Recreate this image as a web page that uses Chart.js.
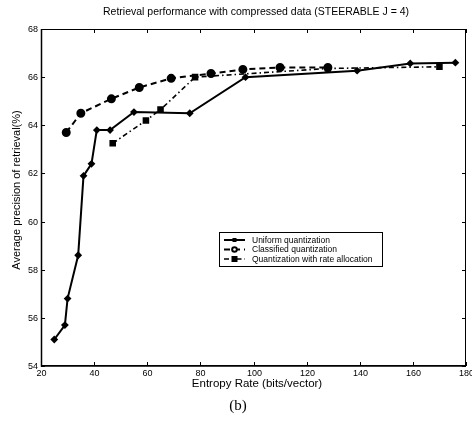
<!DOCTYPE html>
<html>
<head>
<meta charset="utf-8">
<script src="https://cdn.jsdelivr.net/npm/chart.js@4/dist/chart.umd.min.js"></script>
<style>
  html, body { margin: 0; padding: 0; background: #fff; }
  #wrap { width: 472px; height: 424px; position: relative; }
</style>
</head>
<body>
<div id="wrap"><canvas id="plot" width="472" height="424"></canvas></div>
<script>
// values
const uniformX = [25, 29, 30, 34, 36, 39, 41, 46, 55, 76, 97, 139, 159, 176];
const uniformY = [55.1, 55.7, 56.8, 58.6, 61.9, 62.4, 63.8, 63.8, 64.55, 64.5, 66.0, 66.27, 66.57, 66.6];

const classifiedX = [29.5, 35, 46.5, 57, 69, 84, 96, 110, 128];
const classifiedY = [63.7, 64.5, 65.1, 65.57, 65.95, 66.15, 66.32, 66.4, 66.4];

const rateX = [47, 59.5, 65, 78, 128, 170];
const rateY = [63.25, 64.2, 64.65, 66.0, 66.36, 66.43];

const xTicks = [20, 40, 60, 80, 100, 120, 140, 160, 180];
const yTicks = [54, 56, 58, 60, 62, 64, 66, 68];

const FONT = "'Liberation Sans', Arial, sans-serif";

function toPoints(xs, ys) {
  return xs.map((x, i) => ({ x: x, y: ys[i] }));
}

// inward ticks, box, labels, legend - MATLAB look
const matlabFrame = {
  id: "matlabFrame",
  afterDraw(chart) {
    const ctx = chart.ctx;
    const a = chart.chartArea;
    const xs = chart.scales.x;
    const ys = chart.scales.y;
    ctx.save();
    ctx.strokeStyle = "#000";
    ctx.lineWidth = 1;
    ctx.strokeRect(a.left + 0.5, a.top + 0.5, a.right - a.left - 1, a.bottom - a.top - 1);
    ctx.lineWidth = 1.5;
    ctx.beginPath();
    ctx.moveTo(a.left + 0.5, a.top);
    ctx.lineTo(a.left + 0.5, a.bottom);
    ctx.lineTo(a.right, a.bottom);
    ctx.stroke();

    ctx.lineWidth = 1;
    ctx.fillStyle = "#000";
    ctx.font = "9px " + FONT;
    ctx.textAlign = "center";
    ctx.textBaseline = "top";
    xTicks.forEach(v => {
      const px = Math.round(xs.getPixelForValue(v)) + 0.5;
      ctx.beginPath();
      ctx.moveTo(px, a.bottom);
      ctx.lineTo(px, a.bottom - 4);
      ctx.moveTo(px, a.top);
      ctx.lineTo(px, a.top + 4);
      ctx.stroke();
      ctx.fillText(String(v), px, a.bottom + 3);
    });
    ctx.textAlign = "right";
    ctx.textBaseline = "middle";
    yTicks.forEach(v => {
      const py = Math.round(ys.getPixelForValue(v)) + 0.5;
      ctx.beginPath();
      ctx.moveTo(a.left, py);
      ctx.lineTo(a.left + 4, py);
      ctx.moveTo(a.right, py);
      ctx.lineTo(a.right - 4, py);
      ctx.stroke();
      ctx.fillText(String(v), a.left - 3, py);
    });

    // titles
    ctx.textAlign = "center";
    ctx.font = "10.5px " + FONT;
    ctx.fillText("Retrieval performance with compressed data (STEERABLE J = 4)", 256, 12);
    ctx.font = "11.5px " + FONT;
    ctx.fillText("Entropy Rate (bits/vector)", 257, 384);
    ctx.save();
    ctx.translate(17, 190);
    ctx.rotate(-Math.PI / 2);
    ctx.font = "11px " + FONT;
    ctx.fillText("Average precision of retrieval(%)", 0, 0);
    ctx.restore();
    ctx.font = "15px 'Liberation Serif', 'DejaVu Serif', serif";
    ctx.fillText("(b)", 238, 406);

    // legend
    const lx = 219, ly = 232, lw = 163, lh = 34;
    ctx.fillStyle = "#fff";
    ctx.fillRect(lx, ly, lw, lh);
    ctx.strokeStyle = "#000";
    ctx.lineWidth = 1;
    ctx.strokeRect(lx + 0.5, ly + 0.5, lw, lh);
    ctx.font = "8.5px " + FONT;
    ctx.textAlign = "left";
    ctx.textBaseline = "middle";
    chart.data.datasets.forEach((ds, i) => {
      const y = ly + 8 + i * 9.5;
      ctx.strokeStyle = "#000";
      ctx.lineWidth = ds.borderWidth;
      ctx.setLineDash(ds.borderDash || []);
      ctx.beginPath();
      ctx.moveTo(lx + 5, y);
      ctx.lineTo(lx + 26, y);
      ctx.stroke();
      ctx.setLineDash([]);
      ctx.fillStyle = "#000";
      const cx = lx + 15.5;
      if (ds.pointStyle === "circle") {
        ctx.beginPath();
        ctx.arc(cx, y, 3.3, 0, Math.PI * 2);
        ctx.fill();
        ctx.fillStyle = "#fff";
        ctx.beginPath();
        ctx.arc(cx, y, 1.3, 0, Math.PI * 2);
        ctx.fill();
      } else if (ds.pointStyle === "rect") {
        ctx.fillRect(cx - 3, y - 3, 6, 6);
      } else {
        ctx.fillRect(cx - 2, y - 2, 4, 4);
      }
      ctx.fillStyle = "#000";
      ctx.fillText(ds.label, lx + 33, y + 0.5);
    });
    ctx.restore();
  }
};

new Chart(document.getElementById("plot").getContext("2d"), {
  type: "scatter",
  data: {
    datasets: [
      {
        label: "Uniform quantization",
        data: toPoints(uniformX, uniformY),
        showLine: true,
        borderColor: "#000",
        backgroundColor: "#000",
        borderWidth: 2,
        pointStyle: "rectRot",
        pointRadius: 2.5,
        tension: 0
      },
      {
        label: "Classified quantization",
        data: toPoints(classifiedX, classifiedY),
        showLine: true,
        borderColor: "#000",
        backgroundColor: "#000",
        borderWidth: 2,
        borderDash: [6, 4],
        pointStyle: "circle",
        pointRadius: 3.5,
        tension: 0
      },
      {
        label: "Quantization with rate allocation",
        data: toPoints(rateX, rateY),
        showLine: true,
        borderColor: "#000",
        backgroundColor: "#000",
        borderWidth: 1.6,
        borderDash: [5, 3, 1.5, 3],
        pointStyle: "rect",
        pointRadius: 3.5,
        tension: 0
      }
    ]
  },
  options: {
    responsive: false,
    animation: false,
    layout: { padding: { top: 29, left: 0, right: 2, bottom: 0 } },
    plugins: {
      legend: { display: false },
      title: { display: false },
      tooltip: { enabled: false }
    },
    scales: {
      x: {
        type: "linear",
        min: 20,
        max: 180,
        ticks: { display: false, stepSize: 20 },
        grid: { display: false },
        border: { display: false },
        afterFit: (scale) => { scale.height = 58; }
      },
      y: {
        type: "linear",
        min: 54,
        max: 68,
        ticks: { display: false, stepSize: 2 },
        grid: { display: false },
        border: { display: false },
        afterFit: (scale) => { scale.width = 41; }
      }
    }
  },
  plugins: [matlabFrame]
});
</script>
</body>
</html>
